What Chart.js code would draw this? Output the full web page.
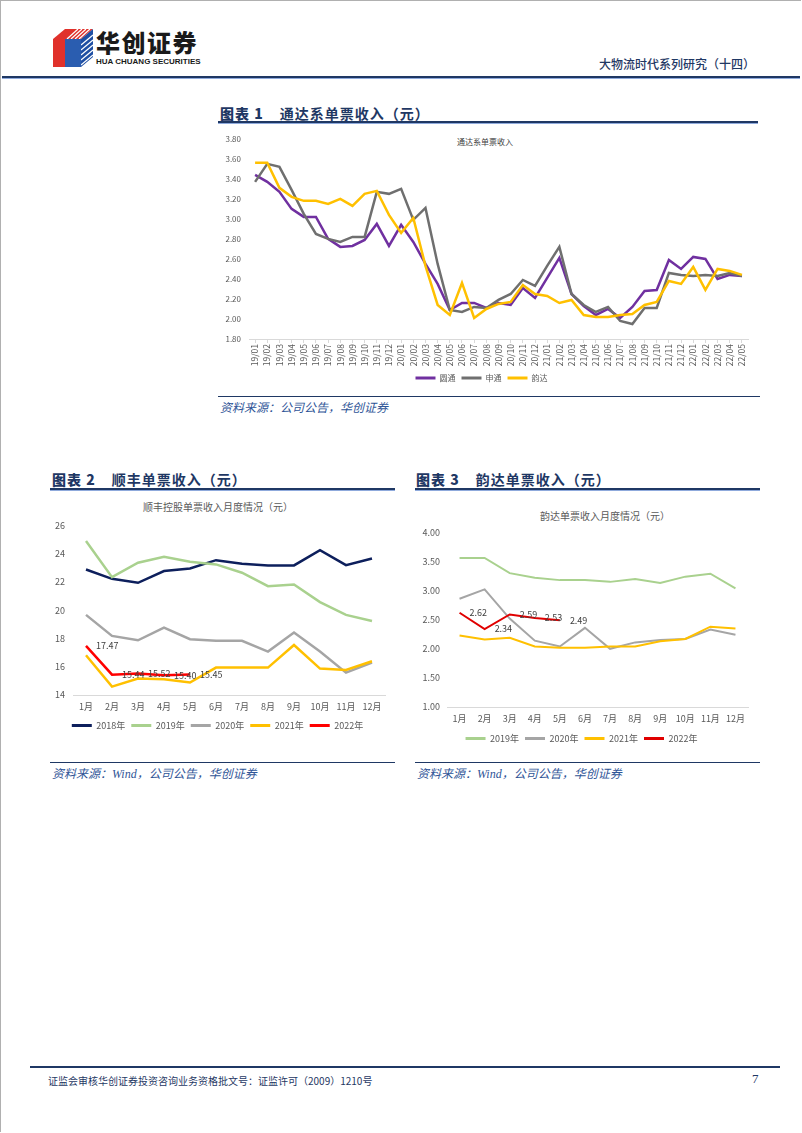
<!DOCTYPE html>
<html>
<head>
<meta charset="utf-8">
<script src="https://cdn.jsdelivr.net/npm/chart.js@4.4.1/dist/chart.umd.min.js"></script>
<style>
  body { margin: 0; width: 802px; height: 1133px; position: relative; background: #fff; overflow: hidden;
         font-family: "Noto Sans CJK SC", sans-serif; }
  .abs { position: absolute; white-space: nowrap; }
  .frame { left: 0; top: 0; width: 800px; height: 1131px; border: 1px solid #b0b0b0; border-bottom: none; border-right: none; }
  .fig-title { font-size: 14px; font-weight: 700; color: #1f3864; letter-spacing: 1px; }
  .fig-title b { margin-right: 16px; }
  .fig-rule { height: 2px; background: #1f3864; border-bottom: 1px solid #8faadc; }
  .src-rule { height: 1px; background: #1f3864; }
  .source { font-size: 12px; font-style: italic; color: #2f5597; font-family: "Liberation Serif", "Noto Sans CJK SC", serif; }
  .chart-sub { color: #595959; font-size: 10px; transform: translateX(-50%); }
  canvas { position: absolute; }
</style>
</head>
<body>
<div class="abs frame"></div>

<!-- header -->
<svg class="abs" style="left:51px;top:27px" width="44" height="42" viewBox="0 0 44 42">
  <polygon points="2,12 14,2 14,40 2,40" fill="#e0312b"/>
  <polygon points="14,2 42,2 30,12 30,40 14,40" fill="#e0312b"/>
  <polygon points="30,12 42,2 42,30 30,40" fill="#1f4fa3"/>
  <g stroke="#fff" stroke-width="1.2">
    <line x1="16" y1="12" x2="27" y2="2"/><line x1="20" y1="12" x2="31" y2="2"/>
    <line x1="24" y1="12" x2="35" y2="2"/><line x1="28" y1="12" x2="39" y2="2"/>
    <line x1="30" y1="18" x2="42" y2="8"/><line x1="30" y1="23" x2="42" y2="13"/>
    <line x1="30" y1="28" x2="42" y2="18"/><line x1="30" y1="33" x2="42" y2="23"/>
    <line x1="30" y1="38" x2="42" y2="28"/>
  </g>
  <rect x="14" y="12" width="16" height="28" fill="#2a5db0"/>
</svg>
<div class="abs" style="left:96px;top:27px;font-size:24px;font-weight:900;color:#1a1a1a;letter-spacing:1.5px;line-height:30px">华创证券</div>
<div class="abs" style="left:96px;top:57px;font-size:8px;font-weight:700;color:#1a1a1a;font-family:'Liberation Sans',sans-serif">HUA CHUANG SECURITIES</div>
<div class="abs" style="right:47px;top:55px;font-size:12px;color:#1f3864;font-weight:500">大物流时代系列研究（十四）</div>
<div class="abs" style="left:2px;top:76px;width:798px;height:2px;background:#1f3864;border-bottom:1px solid #8faadc"></div>

<!-- figure 1 -->
<div class="abs fig-title" style="left:220px;top:103px"><b>图表 1</b>通达系单票收入（元）</div>
<div class="abs fig-rule" style="left:218px;top:121px;width:540px"></div>
<div class="abs chart-sub" style="left:485px;top:136px;font-size:8px;color:#404040">通达系单票收入</div>
<canvas id="tongda" style="left:215px;top:126px" width="545" height="266"></canvas>
<div class="abs src-rule" style="left:218px;top:396px;width:542px"></div>
<div class="abs source" style="left:220px;top:398px">资料来源：公司公告，华创证券</div>

<!-- figure 2 -->
<div class="abs fig-title" style="left:52px;top:469px"><b>图表 2</b>顺丰单票收入（元）</div>
<div class="abs fig-rule" style="left:50px;top:488px;width:345px"></div>
<div class="abs chart-sub" style="left:218px;top:499px">顺丰控股单票收入月度情况（元）</div>
<canvas id="sf" style="left:50px;top:512px" width="345" height="228"></canvas>
<div class="abs src-rule" style="left:50px;top:762px;width:345px"></div>
<div class="abs source" style="left:52px;top:764px">资料来源：Wind，公司公告，华创证券</div>

<!-- figure 3 -->
<div class="abs fig-title" style="left:416px;top:469px"><b>图表 3</b>韵达单票收入（元）</div>
<div class="abs fig-rule" style="left:415px;top:488px;width:345px"></div>
<div class="abs chart-sub" style="left:605px;top:508px">韵达单票收入月度情况（元）</div>
<canvas id="yunda" style="left:415px;top:520px" width="345" height="233"></canvas>
<div class="abs src-rule" style="left:415px;top:762px;width:345px"></div>
<div class="abs source" style="left:417px;top:764px">资料来源：Wind，公司公告，华创证券</div>

<!-- footer -->
<div class="abs" style="left:30px;top:1066px;width:750px;height:2px;background:#1f3864"></div>
<div class="abs" style="left:48px;top:1073px;font-size:10px;color:#1f3864">证监会审核华创证券投资咨询业务资格批文号：证监许可（2009）1210号</div>
<div class="abs" style="left:752px;top:1071px;font-size:13px;color:#1f3864;font-family:'Liberation Serif',serif">7</div>

<script>
// ---- data: figure 1 (通达系单票收入, 元) ----
const tongdaMonths = [
  '19/01','19/02','19/03','19/04','19/05','19/06','19/07','19/08','19/09','19/10','19/11','19/12',
  '20/01','20/02','20/03','20/04','20/05','20/06','20/07','20/08','20/09','20/10','20/11','20/12',
  '21/01','21/02','21/03','21/04','21/05','21/06','21/07','21/08','21/09','21/10','21/11','21/12',
  '22/01','22/02','22/03','22/04','22/05'
];
const yto = [
  3.44, 3.37, 3.27, 3.10, 3.02, 3.02, 2.80, 2.72, 2.73, 2.79, 2.95, 2.73,
  2.94, 2.77, 2.55, 2.35, 2.09, 2.16, 2.16, 2.11, 2.16, 2.14, 2.31, 2.21,
  2.41, 2.61, 2.25, 2.13, 2.04, 2.10, 2.01, 2.12, 2.28, 2.29, 2.59, 2.50,
  2.62, 2.60, 2.40, 2.44, 2.43
];
const sto = [
  3.37, 3.55, 3.52, 3.29, 3.05, 2.85, 2.80, 2.77, 2.82, 2.82, 3.27, 3.25,
  3.30, 2.99, 3.11, 2.55, 2.09, 2.07, 2.12, 2.11, 2.19, 2.25, 2.39, 2.33,
  2.53, 2.72, 2.25, 2.14, 2.07, 2.12, 1.98, 1.95, 2.11, 2.11, 2.46, 2.44,
  2.43, 2.44, 2.43, 2.46, 2.43
];
const yundaAll = [
  3.56, 3.56, 3.31, 3.22, 3.18, 3.18, 3.15, 3.20, 3.13, 3.25, 3.28, 3.04,
  2.86, 3.01, 2.53, 2.14, 2.04, 2.36, 2.01, 2.10, 2.15, 2.17, 2.34, 2.25,
  2.23, 2.16, 2.19, 2.04, 2.02, 2.02, 2.04, 2.05, 2.14, 2.17, 2.38, 2.35,
  2.52, 2.29, 2.50, 2.48, 2.44
];

// ---- data: figure 2 (顺丰) and figure 3 (韵达), by calendar month ----
const monthLabels = ['1月','2月','3月','4月','5月','6月','7月','8月','9月','10月','11月','12月'];
const sf2018 = [22.88, 22.22, 21.94, 22.77, 22.95, 23.54, 23.28, 23.17, 23.17, 24.25, 23.19, 23.66];
const sf2019 = [24.89, 22.34, 23.36, 23.78, 23.43, 23.24, 22.65, 21.70, 21.82, 20.57, 19.67, 19.24];
const sf2020 = [19.67, 18.18, 17.87, 18.77, 17.95, 17.83, 17.83, 17.07, 18.42, 17.07, 15.58, 16.29];
const sf2021 = [16.81, 14.59, 15.16, 15.11, 14.88, 15.94, 15.94, 15.94, 17.54, 15.87, 15.77, 16.39];
const sf2022 = [17.47, 15.44, 15.52, 15.40, 15.45];

const yd2019 = [3.56, 3.56, 3.30, 3.22, 3.18, 3.18, 3.15, 3.20, 3.13, 3.24, 3.29, 3.04];
const yd2020 = [2.86, 3.02, 2.52, 2.14, 2.04, 2.36, 2.00, 2.11, 2.15, 2.17, 2.33, 2.24];
const yd2021 = [2.23, 2.16, 2.19, 2.04, 2.02, 2.02, 2.04, 2.04, 2.13, 2.17, 2.38, 2.35];
const yd2022 = [2.62, 2.34, 2.59, 2.53, 2.49];

const FONT = '"Noto Sans CJK SC", "Liberation Sans", sans-serif';
Chart.defaults.font.family = FONT;
Chart.defaults.color = '#595959';

// writes the values of one series just to the right of each point
const pointValues = {
  id: 'pointValues',
  afterDatasetsDraw(chart, args, opts) {
    if (opts.datasetIndex == null) return;
    const meta = chart.getDatasetMeta(opts.datasetIndex);
    const values = chart.data.datasets[opts.datasetIndex].data;
    const ctx = chart.ctx;
    ctx.save();
    ctx.font = `${opts.size}px ${FONT}`;
    ctx.fillStyle = '#404040';
    ctx.textAlign = 'left';
    ctx.textBaseline = 'middle';
    meta.data.forEach((pt, i) => ctx.fillText(values[i].toFixed(2), pt.x + opts.offset, pt.y));
    ctx.restore();
  }
};

// legend swatches as flat line segments
function legendLabels(chart) {
  return Chart.defaults.plugins.legend.labels.generateLabels(chart)
    .map(item => Object.assign(item, { fillStyle: item.strokeStyle, lineWidth: 0 }));
}

function lineChart(id, labels, series, cfg) {
  return new Chart(document.getElementById(id), {
    type: 'line',
    data: {
      labels: labels,
      datasets: series.map((s, i) => ({
        label: s.label,
        data: s.data,
        borderColor: s.color,
        backgroundColor: s.color,
        borderWidth: cfg.lineWidth,
        pointRadius: 0,
        tension: 0,
        order: series.length - i   // later series drawn on top, like Excel
      }))
    },
    plugins: [pointValues],
    options: {
      responsive: false,
      animation: false,
      layout: { padding: cfg.padding },
      scales: {
        x: {
          offset: true,
          grid: { display: cfg.xTicks, drawOnChartArea: false, drawTicks: cfg.xTicks, tickLength: 4, color: '#d9d9d9' },
          border: { color: '#d9d9d9' },
          ticks: { font: { size: cfg.xFont }, autoSkip: false, minRotation: cfg.rotation, maxRotation: cfg.rotation, padding: cfg.xPad },
          afterFit: s => { s.height = cfg.xHeight; }
        },
        y: {
          min: cfg.yMin,
          max: cfg.yMax,
          grid: { display: false, drawTicks: false },
          border: { display: false },
          ticks: { stepSize: cfg.yStep, font: { size: cfg.yFont }, padding: cfg.yPad, callback: v => v.toFixed(cfg.decimals) },
          afterFit: s => { s.width = cfg.yWidth; }
        }
      },
      plugins: {
        legend: {
          position: 'bottom',
          labels: { boxWidth: 20, boxHeight: 3, padding: cfg.legendPad, color: '#595959',
                    font: { size: cfg.legendFont }, generateLabels: legendLabels,
                    sort: (a, b) => a.datasetIndex - b.datasetIndex }
        },
        tooltip: { enabled: false },
        pointValues: cfg.values || {}
      }
    }
  });
}

lineChart('tongda', tongdaMonths, [
  { label: '圆通', data: yto, color: '#7030a0' },
  { label: '申通', data: sto, color: '#6f6f6f' },
  { label: '韵达', data: yundaAll, color: '#ffc000' }
], {
  lineWidth: 2.5, padding: { top: 6, right: 12, left: 0, bottom: 0 },
  xTicks: true, xFont: 8.5, rotation: 90, xPad: 1, xHeight: 29,
  yMin: 1.8, yMax: 3.8, yStep: 0.2, decimals: 2, yFont: 8, yPad: 8, yWidth: 34,
  legendPad: 6, legendFont: 8
});

lineChart('sf', monthLabels, [
  { label: '2018年', data: sf2018, color: '#0d1f5c' },
  { label: '2019年', data: sf2019, color: '#a9d18e' },
  { label: '2020年', data: sf2020, color: '#a5a5a5' },
  { label: '2021年', data: sf2021, color: '#ffc000' },
  { label: '2022年', data: sf2022, color: '#ff0000' }
], {
  lineWidth: 2.5, padding: { top: 3, right: 10, left: 0, bottom: 0 },
  xTicks: false, xFont: 9, rotation: 0, xPad: 6, xHeight: 20,
  yMin: 14, yMax: 26, yStep: 2, decimals: 0, yFont: 9, yPad: 8, yWidth: 23,
  legendPad: 6, legendFont: 9,
  values: { datasetIndex: 4, size: 9, offset: 10 }
});

lineChart('yunda', monthLabels, [
  { label: '2019年', data: yd2019, color: '#a9d18e' },
  { label: '2020年', data: yd2020, color: '#a5a5a5' },
  { label: '2021年', data: yd2021, color: '#ffc000' },
  { label: '2022年', data: yd2022, color: '#e00000' }
], {
  lineWidth: 2, padding: { top: 3, right: 12, left: 0, bottom: 0 },
  xTicks: false, xFont: 9, rotation: 0, xPad: 6, xHeight: 21,
  yMin: 1, yMax: 4, yStep: 0.5, decimals: 2, yFont: 9, yPad: 7, yWidth: 32,
  legendPad: 6, legendFont: 9,
  values: { datasetIndex: 3, size: 9, offset: 10 }
});
</script>
</body>
</html>
